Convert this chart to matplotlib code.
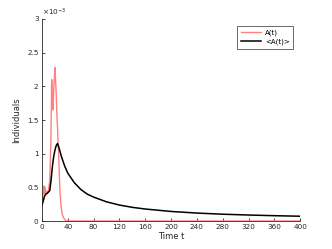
import matplotlib
matplotlib.use("Agg")
import matplotlib.pyplot as plt

# A(t): single realisation (in units of 1e-3)
t_A = [0, 1, 2, 3, 4, 5, 6, 8, 10, 12, 13, 14, 15, 16, 17, 18, 19, 20, 21,
       22, 23, 24, 25, 26, 27, 28, 29, 30, 31, 32, 34, 36, 38, 40, 400]
A = [0.25, 0.35, 0.45, 0.52, 0.40, 0.48, 0.42, 0.44, 0.45, 0.60, 0.90, 1.30,
     2.10, 1.90, 1.65, 1.90, 2.10, 2.28, 2.10, 1.90, 1.60, 1.40, 1.15, 0.95,
     0.65, 0.42, 0.28, 0.18, 0.12, 0.08, 0.04, 0.015, 0.005, 0.0, 0.0]

# <A(t)>: running average (in units of 1e-3)
t_avg = [0, 2, 4, 6, 8, 10, 12, 14, 16, 18, 20, 22, 24, 26, 28, 30, 35, 40,
         50, 60, 70, 80, 100, 120, 140, 160, 200, 240, 280, 320, 360, 400]
A_avg = [0.23, 0.30, 0.37, 0.40, 0.41, 0.43, 0.45, 0.60, 0.80, 0.95, 1.05,
         1.12, 1.15, 1.10, 1.03, 0.96, 0.82, 0.71, 0.57, 0.47, 0.40, 0.355,
         0.285, 0.237, 0.203, 0.178, 0.142, 0.118, 0.101, 0.089, 0.079, 0.071]

x_ticks = list(range(0, 401, 40))
y_ticks = [0, 0.5, 1, 1.5, 2, 2.5, 3]
y_labels = ["0", "0.5", "1", "1.5", "2", "2.5", "3"]

fig = plt.figure(figsize=(3.32, 2.49), dpi=100)
ax = fig.add_axes([0.1265, 0.1124, 0.7775, 0.8113])

ax.plot(t_A, A, color="#ff8080", linewidth=1.0, label="A(t)")
ax.plot(t_avg, A_avg, color="black", linewidth=1.1, label="<A(t)>")

ax.set_xlim(0, 400)
ax.set_ylim(0, 3)
ax.set_xticks(x_ticks)
ax.set_yticks(y_ticks)
ax.set_yticklabels(y_labels)
ax.tick_params(direction="in", length=2.5, width=0.6, labelsize=5.2,
               colors="#262626", pad=2.5)
for s in ["top", "right"]:
    ax.spines[s].set_visible(False)
for s in ["left", "bottom"]:
    ax.spines[s].set_linewidth(0.6)
    ax.spines[s].set_color("#262626")

ax.set_xlabel("Time t", fontsize=6, color="#262626", labelpad=1)
ax.set_ylabel("Individuals", fontsize=6, color="#262626", labelpad=4)
ax.text(0.0, 1.005, r"$\times10^{-3}$", transform=ax.transAxes,
        fontsize=5.2, color="#262626", ha="left", va="bottom")

leg = ax.legend(loc="upper right", fontsize=5, frameon=True, fancybox=False,
                edgecolor="#262626", handlelength=3.0, handletextpad=0.5,
                borderpad=0.5, labelspacing=0.4, borderaxespad=0,
                bbox_to_anchor=(0.973, 0.965))
leg.get_frame().set_linewidth(0.6)

fig.savefig("out.png", dpi=100)
